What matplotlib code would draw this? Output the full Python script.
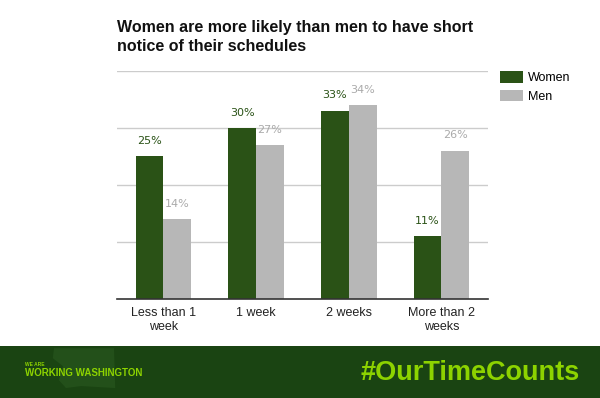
import matplotlib
matplotlib.use('Agg')
import matplotlib.pyplot as plt
import numpy as np

plt.rcParams['font.family'] = ['Liberation Sans', 'DejaVu Sans']

categories = ["Less than 1\nweek", "1 week", "2 weeks", "More than 2\nweeks"]
women = [25, 30, 33, 11]
men = [14, 27, 34, 26]

WOMEN_C = '#2a5216'
MEN_C = '#b7b7b7'
FOOT_C = '#1a4412'
LIME = '#8dd300'

fig = plt.figure(figsize=(6, 3.98), dpi=100)
fig.patch.set_facecolor('white')
ax = fig.add_axes([0.195, 0.2487, 0.618, 0.573])

x = np.arange(len(categories))
w = 0.3
bw = ax.bar(x - w / 2, women, w, color=WOMEN_C, label='Women', zorder=3)
bm = ax.bar(x + w / 2, men, w, color=MEN_C, label='Men', zorder=3)

for bar, v in zip(bw, women):
    ax.annotate(f"{v}%", (bar.get_x() + bar.get_width() / 2, v), xytext=(0, 7.5),
                textcoords='offset points', ha='center', va='bottom',
                fontsize=8, color=WOMEN_C, family='DejaVu Sans')
for bar, v in zip(bm, men):
    ax.annotate(f"{v}%", (bar.get_x() + bar.get_width() / 2, v), xytext=(0, 7.5),
                textcoords='offset points', ha='center', va='bottom',
                fontsize=8, color='#aaaaaa', family='DejaVu Sans')

ax.set_xlim(-0.5, 3.5)
ax.set_ylim(0, 40)
ax.set_yticks([10, 20, 30, 40])
ax.yaxis.grid(True, color='#cccccc', lw=1, zorder=0)
ax.tick_params(axis='y', left=False, labelleft=False)
ax.set_xticks(x)
ax.set_xticklabels(categories, fontsize=9, color='#222222')
ax.tick_params(axis='x', length=0, pad=6)
for s in ['top', 'right', 'left']:
    ax.spines[s].set_visible(False)
ax.spines['bottom'].set_color('#333333')
ax.spines['bottom'].set_linewidth(1.2)
ax.spines['bottom'].set_zorder(4)

ax.legend(loc='upper left', bbox_to_anchor=(1.012, 1.031), frameon=False,
          fontsize=9, handlelength=1.9, handleheight=1.0, labelspacing=0.45,
          borderaxespad=0.2, handletextpad=0.35)

fig.text(0.195, 0.95, "Women are more likely than men to have short\nnotice of their schedules",
         ha='left', va='top', fontsize=11.5, fontweight='bold', color='#111111',
         linespacing=1.35)

# footer band
fig.patches.append(plt.Rectangle((0, 0), 1, 0.1307, transform=fig.transFigure,
                                 facecolor=FOOT_C, edgecolor='none', zorder=0))
# faint state outline behind the logo
state = plt.Polygon([(0.09, 0.125), (0.19, 0.125), (0.192, 0.025), (0.135, 0.03),
                     (0.11, 0.025), (0.098, 0.045), (0.105, 0.08), (0.088, 0.1)],
                    closed=True, transform=fig.transFigure, facecolor='#23501a',
                    edgecolor='none', zorder=0.5)
fig.patches.append(state)
fig.text(0.967, 0.064, "#OurTimeCounts", ha='right', va='center', fontsize=19.5,
         fontweight='bold', color=LIME)
fig.text(0.042, 0.085, "WE ARE", ha='left', va='center', fontsize=3.5,
         fontweight='bold', color=LIME)
fig.text(0.042, 0.063, "WORKING WASHINGTON", ha='left', va='center', fontsize=7,
         fontweight='bold', color=LIME)

fig.savefig("out.png", dpi=100)
